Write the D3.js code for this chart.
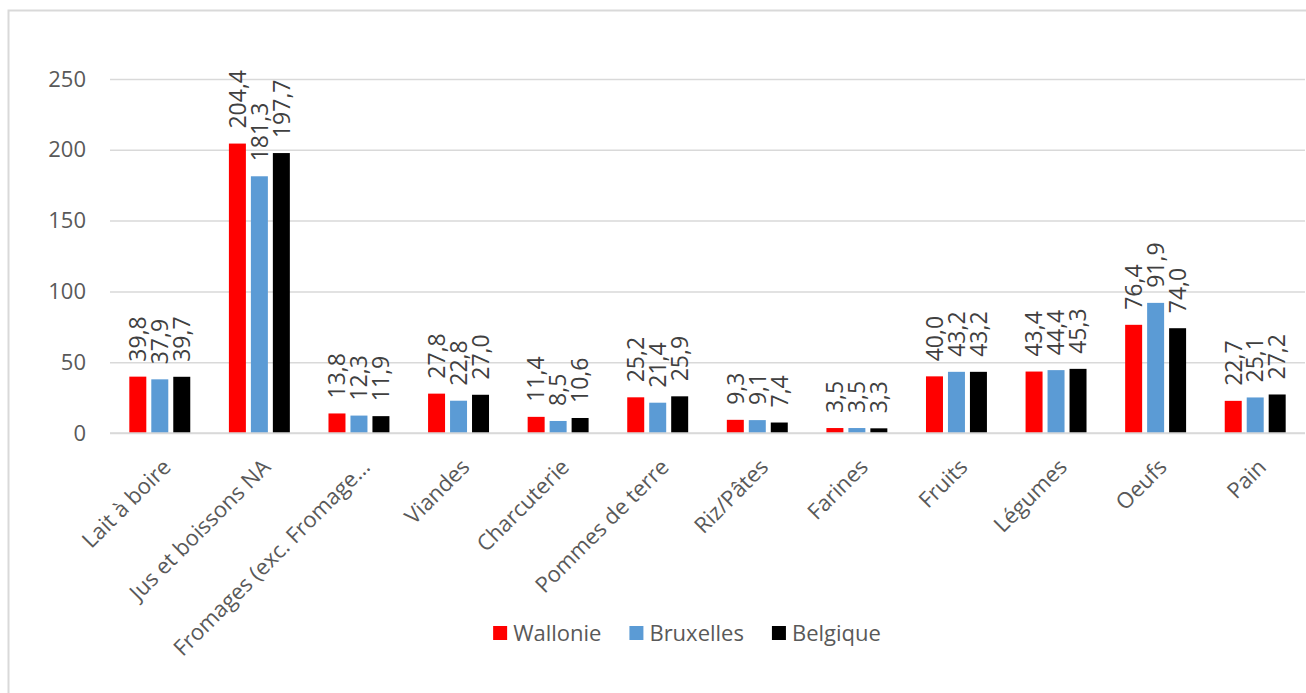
<!DOCTYPE html>
<html>
<head>
<meta charset="utf-8">
<script src="https://cdn.jsdelivr.net/npm/d3@7"></script>
<style>
  html, body { margin: 0; padding: 0; background: #ffffff; }
  svg { display: block; font-family: "Open Sans", "Noto Sans", sans-serif; }
</style>
</head>
<body>
<svg id="chart" width="1306" height="693"></svg>
<script>
// Food categories along the x axis
const categories = [
  "Lait à boire", "Jus et boissons NA", "Fromages (exc. Fromage...",
  "Viandes", "Charcuterie", "Pommes de terre", "Riz/Pâtes",
  "Farines", "Fruits", "Légumes", "Oeufs", "Pain"
];

// Series names and values (one value per category)
const seriesNames = ["Wallonie", "Bruxelles", "Belgique"];
const wallonie  = [39.8, 204.4, 13.8, 27.8, 11.4, 25.2, 9.3, 3.5, 40.0, 43.4, 76.4, 22.7];
const bruxelles = [37.9, 181.3, 12.3, 22.8,  8.5, 21.4, 9.1, 3.5, 43.2, 44.4, 91.9, 25.1];
const belgique  = [39.7, 197.7, 11.9, 27.0, 10.6, 25.9, 7.4, 3.3, 43.2, 45.3, 74.0, 27.2];
const seriesValues = [wallonie, bruxelles, belgique];
const seriesColors = ["#ff0000", "#5b9bd5", "#000000"];

// Y axis ticks
const yTicks = [0, 50, 100, 150, 200, 250];

const svg = d3.select("#chart");
const W = 1306, H = 693;

// Outer chart frame
svg.append("rect")
  .attr("x", 8.5).attr("y", 10.5)
  .attr("width", W + 10).attr("height", H + 10)
  .attr("fill", "#ffffff")
  .attr("stroke", "#d9d9d9").attr("stroke-width", 2);

const plot = { left: 110, right: 1305, top: 79, bottom: 433 };

const x0 = d3.scaleBand()
  .domain(categories)
  .range([plot.left, plot.right])
  .paddingInner(0.388)
  .paddingOuter(0.194);

const x1 = d3.scaleBand()
  .domain(seriesNames)
  .range([0, x0.bandwidth()])
  .paddingInner(0.227)
  .paddingOuter(0);

const y = d3.scaleLinear()
  .domain([0, 250])
  .range([plot.bottom, plot.top]);

// Gridlines and y tick labels
const yAxis = d3.axisLeft(y)
  .tickValues(yTicks)
  .tickSize(-(plot.right - plot.left))
  .tickPadding(24)
  .tickFormat(d3.format("d"));

const gy = svg.append("g")
  .attr("transform", `translate(${plot.left},0)`)
  .call(yAxis);
gy.select(".domain").remove();
gy.selectAll(".tick line")
  .attr("stroke", "#d9d9d9")
  .attr("stroke-width", 1.5);
gy.selectAll(".tick text")
  .attr("fill", "#595959")
  .attr("font-size", "22px")
  .attr("font-family", "'Open Sans', sans-serif");

// Bars
const fmt = v => d3.format(".1f")(v).replace(".", ",");

const groups = svg.append("g").selectAll("g")
  .data(categories)
  .join("g")
  .attr("transform", c => `translate(${x0(c)},0)`);

seriesNames.forEach((s, si) => {
  groups.append("rect")
    .attr("x", x1(s))
    .attr("width", x1.bandwidth())
    .attr("y", (c, ci) => y(seriesValues[si][ci]))
    .attr("height", (c, ci) => y(0) - y(seriesValues[si][ci]))
    .attr("fill", seriesColors[si]);

  // Value labels, rotated vertically above each bar
  groups.append("text")
    .attr("transform", (c, ci) =>
      `translate(${x1(s) + x1.bandwidth() / 2},${y(seriesValues[si][ci]) - 15}) rotate(-90)`)
    .attr("dy", "0.36em")
    .attr("text-anchor", "start")
    .attr("font-size", "23px")
    .attr("fill", "#404040")
    .text((c, ci) => fmt(seriesValues[si][ci]));
});

// Category labels, rotated 45 degrees
const xAxis = d3.axisBottom(x0).tickSize(0).tickPadding(0);
const gx = svg.append("g")
  .attr("transform", `translate(0,${plot.bottom})`)
  .call(xAxis);
gx.select(".domain").remove();
gx.selectAll(".tick text")
  .attr("fill", "#595959")
  .attr("font-size", "22px")
  .attr("font-family", "'Open Sans', sans-serif")
  .attr("text-anchor", "end")
  .attr("y", 0)
  .attr("dy", "0.35em")
  .attr("transform", "translate(7,30) rotate(-45)");

// Baseline
svg.append("line")
  .attr("x1", plot.left).attr("x2", plot.right)
  .attr("y1", y(0)).attr("y2", y(0))
  .attr("stroke", "#d9d9d9").attr("stroke-width", 1.5);

// Legend
const legend = svg.append("g").attr("transform", "translate(0,633)");
const items = legend.selectAll("g")
  .data(seriesNames)
  .join("g");
items.append("rect")
  .attr("width", 14).attr("height", 14)
  .attr("y", -7)
  .attr("fill", (d, i) => seriesColors[i]);
items.append("text")
  .attr("x", 20)
  .attr("dy", "0.35em")
  .attr("font-size", "22px")
  .attr("fill", "#595959")
  .text(d => d);

const widths = [];
items.each(function () {
  widths.push(20 + d3.select(this).select("text").node().getComputedTextLength());
});
const gap = 28;
const total = d3.sum(widths) + gap * (widths.length - 1);
let cursor = 687 - total / 2;
items.attr("transform", (d, i) => {
  const t = `translate(${cursor},0)`;
  cursor += widths[i] + gap;
  return t;
});
</script>
</body>
</html>
